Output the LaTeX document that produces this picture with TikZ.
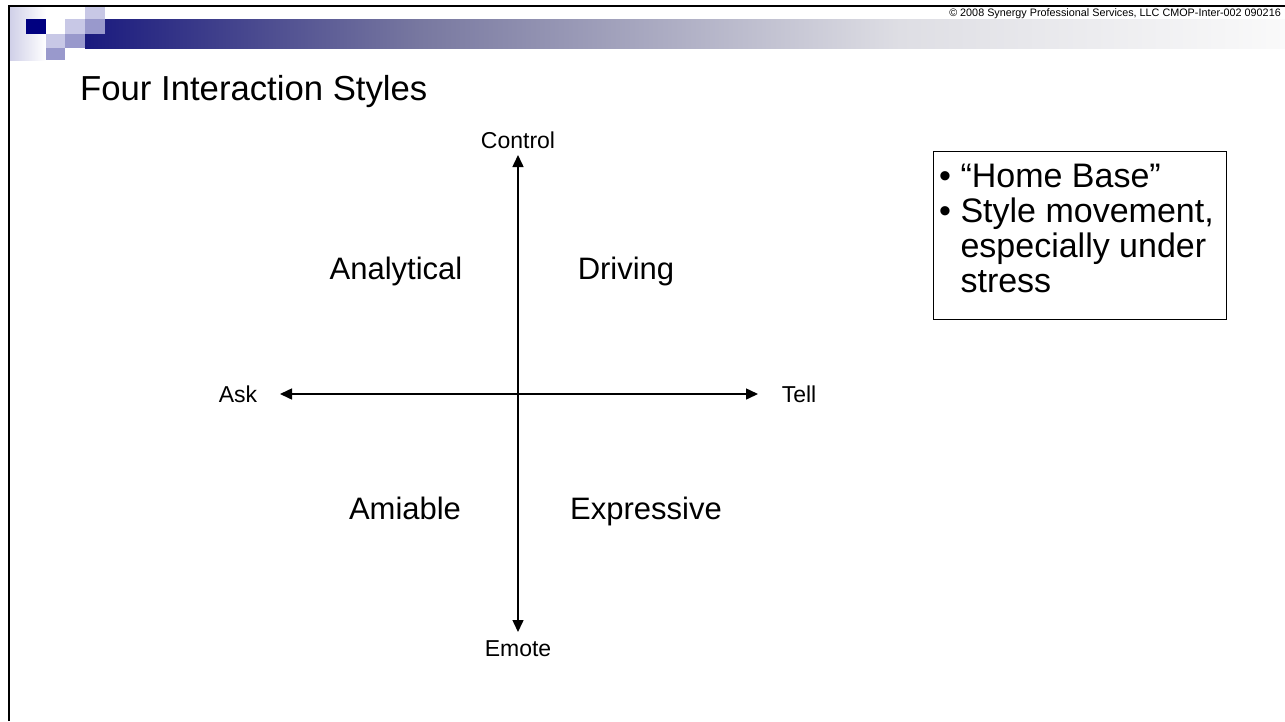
\documentclass[tikz,border=0pt]{standalone}
\usepackage{fontspec}
\setmainfont{Liberation Sans}
\usetikzlibrary{arrows.meta}
\definecolor{navy}{RGB}{0,0,128}
\definecolor{bardark}{RGB}{26,26,126}
\definecolor{barmid}{RGB}{120,120,160}
\definecolor{barlight}{RGB}{222,222,228}
\definecolor{sqlight}{RGB}{200,200,230}
\definecolor{sqmid}{RGB}{153,153,204}
\definecolor{edge}{RGB}{208,208,232}
\newcommand{\fs}[1]{\fontsize{#1}{#1}\selectfont}
\tikzset{
  axislabel/.style={inner sep=0pt, anchor=base, font=\fs{23}},
  quadlabel/.style={inner sep=0pt, anchor=base, font=\fs{31}},
  axisline/.style={line width=1.5pt, {Triangle[length=12pt,width=11pt]}-{Triangle[length=12pt,width=11pt]}}
}
\begin{document}
\begin{tikzpicture}[x=1pt,y=-1pt]
\useasboundingbox (0,0) rectangle (1285,721);
\fill[white] (0,0) rectangle (1285,721);

% header band and corner squares
\shade[left color=edge, right color=white] (10,7) rectangle (46,60);
\shade[left color=bardark, right color=barmid] (85,19) rectangle (420,48);
\shade[left color=barmid, right color=barlight] (420,19) rectangle (900,48);
\shade[left color=barlight, right color=white!96!gray] (900,19) rectangle (1285,48);
\fill[navy] (26,19) rectangle (46,34);
\fill[sqlight] (65,19) rectangle (85,34);
\fill[sqmid] (85,19) rectangle (105,34);
\fill[sqlight] (85,7) rectangle (105,19);
\fill[sqlight] (46,34) rectangle (65,48);
\fill[sqmid] (65,34) rectangle (85,48);
\fill[sqmid] (46,48) rectangle (65,60);

% slide frame
\draw[line width=2.5pt] (9,721) -- (9,6) -- (1285,6);

\node[anchor=base east, inner sep=0pt, font=\fs{10.8}] (copy) at (1281,16)
  {© 2008 Synergy Professional Services, LLC CMOP-Inter-002 090216};
\node[anchor=base west, inner sep=0pt, font=\fs{34.7}] (title) at (80,100) {Four Interaction Styles};

% axes
\node[axislabel] (ctl) at (518,148) {Control};
\node[axislabel] (emo) at (518,656) {Emote};
\node[axislabel] (ask) at (238,402) {Ask};
\node[axislabel] (tell) at (799,402) {Tell};
\coordinate (vt) at (518,155);
\coordinate (vb) at (518,632);
\coordinate (hl) at (280,394);
\coordinate (hr) at (758,394);
\draw[axisline] (vt) -- (vb);
\draw[axisline] (hl) -- (hr);

% quadrants
\node[quadlabel] (ana) at (396,279) {Analytical};
\node[quadlabel] (drv) at (626,279) {Driving};
\node[quadlabel] (ami) at (405,519) {Amiable};
\node[quadlabel] (exp) at (646,519) {Expressive};

% note box; the text node's base is the baseline of its last line
\node[draw, line width=0.8pt, anchor=north west, minimum width=293pt, minimum height=168pt, inner sep=0pt] (box) at (933,151) {};
\node[anchor=base west, inner sep=0pt, align=left, font=\fontsize{34}{35}\selectfont] (notes) at (939,292)
  {\textbullet\ “Home Base”\\
   \textbullet\ Style movement,\\
   \hphantom{\textbullet\ }especially under\\
   \hphantom{\textbullet\ }stress};
\end{tikzpicture}
\end{document}
